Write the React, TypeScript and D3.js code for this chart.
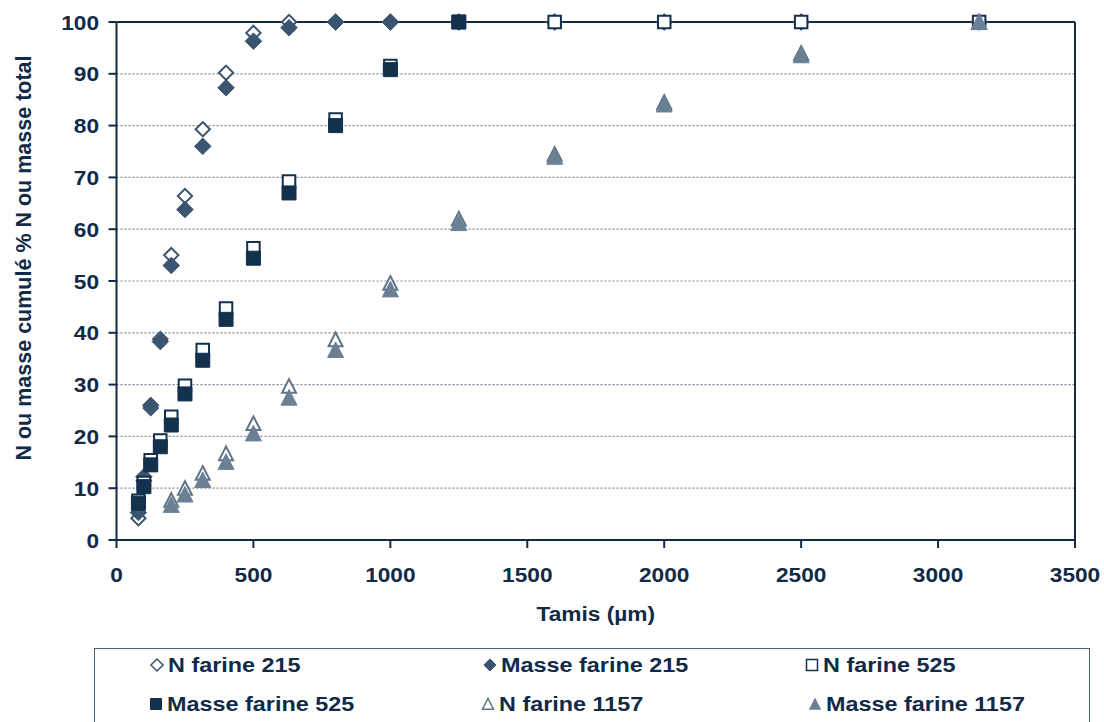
import * as d3 from 'd3';
import React from 'react';

// sieve openings (µm) and cumulated percentages
const sieves = [80, 100, 125, 160, 200, 250, 315, 400, 500, 630, 800, 1000, 1250, 1600, 2000, 2500, 3150];
const nFarine215 = [4.2, 11.5, 25.5, 38.8, 55, 66.4, 79.3, 90.2, 97.9, 100, 100, 100, 100, 100, 100, 100, 100];
const masseFarine215 = [5.3, 12.2, 26, 38.3, 53, 63.8, 76, 87.3, 96.3, 98.9, 100, 100, 100, 100, 100, 100, 100];
const nFarine525 = [7.6, 11, 15.4, 19.2, 23.8, 29.8, 36.7, 44.7, 56.3, 69.2, 81.2, 91.5, 100, 100, 100, 100, 100];
const masseFarine525 = [7.1, 10.3, 14.5, 18, 22.2, 28.2, 34.7, 42.6, 54.4, 67, 80, 90.8, 100];
const sieves1157 = [200, 250, 315, 400, 500, 630, 800, 1000, 1250, 1600, 2000, 2500, 3150];
const nFarine1157 = [7.7, 10, 12.9, 16.7, 22.5, 29.7, 38.7, 49.6, 62, 74.5, 84.5, 94, 100];
const masseFarine1157 = [6.8, 8.8, 11.6, 15.1, 20.6, 27.5, 36.7, 48.4, 61.2, 74, 84.1, 93.6, 100];

const xTicks = [0, 500, 1000, 1500, 2000, 2500, 3000, 3500];
const yTicks = [0, 10, 20, 30, 40, 50, 60, 70, 80, 90, 100];

const params = {
    width: 1104,
    height: 722,
    left: 116.5,
    right: 1075,
    top: 22,
    bottom: 540,
};

const ink = '#112a47';
const font = '"Liberation Sans", Arial, sans-serif';

const markerPath = (shape, cx, cy, s) => {
    if (shape === 'diamond') {
        const w = s * 0.55, h = s * 0.55;
        return `M${cx},${cy - h}L${cx + w},${cy}L${cx},${cy + h}L${cx - w},${cy}Z`;
    }
    if (shape === 'square') {
        const h = s / 2;
        return `M${cx - h},${cy - h}H${cx + h}V${cy + h}H${cx - h}Z`;
    }
    const h = s / 2;
    return `M${cx},${cy - h}L${cx + h},${cy + h * 0.95}L${cx - h},${cy + h * 0.95}Z`;
};

const series = [
    { name: 'N farine 215', xs: sieves, ys: nFarine215, shape: 'diamond', open: true, color: '#3b5470', size: 13 },
    { name: 'Masse farine 215', xs: sieves, ys: masseFarine215, shape: 'diamond', open: false, color: '#3b5470', size: 15 },
    { name: 'N farine 525', xs: sieves, ys: nFarine525, shape: 'square', open: true, color: '#13304d', size: 12.5 },
    { name: 'Masse farine 525', xs: sieves, ys: masseFarine525, shape: 'square', open: false, color: '#13304d', size: 14 },
    { name: 'N farine 1157', xs: sieves1157, ys: nFarine1157, shape: 'triangle', open: true, color: '#5f7489', size: 14 },
    { name: 'Masse farine 1157', xs: sieves1157, ys: masseFarine1157, shape: 'triangle', open: false, color: '#6c8095', size: 16 },
];

// legend slots (marker centre, baseline)
const legendSlots = [
    { x: 157, y: 672 }, { x: 490, y: 672 }, { x: 812, y: 672 },
    { x: 156, y: 711 }, { x: 488, y: 711 }, { x: 815, y: 711 },
];

const Stretched = ({ x, y, sx, anchor, size, children }) => (
    <text transform={`translate(${x},${y}) scale(${sx},1)`} textAnchor={anchor}
        fontFamily={font} fontWeight="bold" fontSize={size} fill={ink}>{children}</text>
);

export default function App() {
    const x = d3.scaleLinear().domain([0, 3500]).range([params.left, params.right]);
    const y = d3.scaleLinear().domain([0, 100]).range([params.bottom, params.top]);

    return (
        <svg width={params.width} height={params.height}
            style={{ position: 'absolute', left: 0, top: 0, background: '#fff' }}>
            {/* grid */}
            {yTicks.filter(t => t > 0 && t < 100).map(t => (
                <line key={'g' + t} x1={params.left} x2={params.right} y1={y(t)} y2={y(t)}
                    stroke="#7d8d9e" strokeWidth={1.2} strokeDasharray="2,2" />
            ))}
            {/* frame */}
            <line x1={params.left} x2={params.right} y1={params.top} y2={params.top} stroke={ink} strokeWidth={2} />
            <line x1={params.right} x2={params.right} y1={params.top} y2={params.bottom} stroke={ink} strokeWidth={2} />
            <line x1={params.left} x2={params.right} y1={params.bottom} y2={params.bottom} stroke={ink} strokeWidth={2} />
            <line x1={params.left} x2={params.left} y1={params.top} y2={params.bottom} stroke={ink} strokeWidth={2} />
            {/* y axis */}
            {yTicks.map(t => (
                <g key={'y' + t}>
                    <line x1={params.left - 8} x2={params.left} y1={y(t)} y2={y(t)} stroke={ink} strokeWidth={2} />
                    <Stretched x={99} y={y(t) + 7.5} sx={1.08} anchor="end" size={21}>{t}</Stretched>
                </g>
            ))}
            {/* x axis */}
            {xTicks.map(t => (
                <g key={'x' + t}>
                    <line x1={x(t)} x2={x(t)} y1={params.bottom} y2={params.bottom + 8} stroke={ink} strokeWidth={2} />
                    <Stretched x={x(t)} y={582} sx={1.08} anchor="middle" size={21}>{t}</Stretched>
                </g>
            ))}
            <Stretched x={(params.left + params.right) / 2} y={621} sx={1.08} anchor="middle" size={21}>Tamis (µm)</Stretched>
            <text transform="translate(31,258) rotate(-90)" textAnchor="middle" fontFamily={font}
                fontWeight="bold" fontSize={21.5} fill={ink}>N ou masse cumulé % N ou masse total</text>

            {/* points */}
            {series.map(s => (
                <g key={s.name}>
                    {s.xs.map((v, i) => (
                        <path key={i} d={markerPath(s.shape, x(v), y(s.ys[i]), s.size)}
                            fill={s.open ? '#fff' : s.color}
                            stroke={s.color} strokeWidth={s.open ? 2 : 1} strokeLinejoin="miter" />
                    ))}
                </g>
            ))}

            {/* legend */}
            <rect x={94.5} y={648.5} width={995} height={90} fill="none" stroke="#4f6477" strokeWidth={1} />
            {series.map((s, i) => {
                const slot = legendSlots[i];
                return (
                    <g key={'l' + s.name}>
                        <path d={markerPath(s.shape, slot.x, slot.y - 7, 11)}
                            fill={s.open ? '#fff' : s.color} stroke={s.color} strokeWidth={s.open ? 1.5 : 1} />
                        <Stretched x={slot.x + 11} y={slot.y} sx={1.17} anchor="start" size={20}>{s.name}</Stretched>
                    </g>
                );
            })}
        </svg>
    );
}
